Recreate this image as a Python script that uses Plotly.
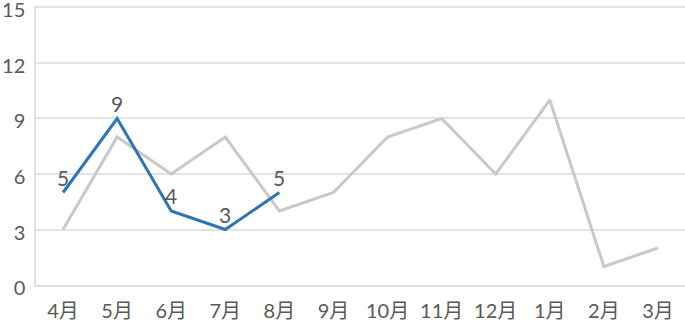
import plotly.graph_objects as go

months = ["4月", "5月", "6月", "7月", "8月", "9月", "10月", "11月", "12月", "1月", "2月", "3月"]
prev_year = [3, 8, 6, 8, 4, 5, 8, 9, 6, 10, 1, 2]
this_year = [5, 9, 4, 3, 5]
y_ticks = [0, 3, 6, 9, 12, 15]

FONT = "Lato, Noto Sans CJK JP"
TXT = "#595959"

fig = go.Figure()
fig.add_trace(go.Scatter(
    x=months, y=prev_year, mode="lines",
    line=dict(color="#c9c9c9", width=3), showlegend=False, hoverinfo="skip"))
fig.add_trace(go.Scatter(
    x=months[:len(this_year)], y=this_year, mode="lines",
    line=dict(color="#2e75b6", width=3), showlegend=False))

for m, v in zip(months, this_year):
    fig.add_annotation(x=m, y=v, text=str(v), showarrow=False, yshift=15,
                       font=dict(family=FONT, size=21, color=TXT))

fig.update_layout(
    width=685, height=323,
    margin=dict(l=36, r=0, t=6, b=38, autoexpand=False),
    paper_bgcolor="white", plot_bgcolor="white",
    font=dict(family=FONT, color=TXT),
    xaxis=dict(type="category", categoryorder="array", categoryarray=months,
               range=[-0.5, 11.5], showgrid=False, showline=True,
               linecolor="#e0e0e0", linewidth=2, tickfont=dict(size=20),
               ticks="outside", ticklen=7, tickcolor="rgba(0,0,0,0)",
               automargin=False),
    yaxis=dict(range=[0, 15.08], tickvals=y_ticks, showgrid=True,
               gridcolor="#e3e3e3", gridwidth=1.5, showline=True,
               linecolor="#e0e0e0", linewidth=1.5, zeroline=False,
               tickfont=dict(size=20), ticks="outside", ticklen=5,
               tickcolor="rgba(0,0,0,0)", ticklabeloverflow="allow",
               ticklabelshift=3, automargin=False),
)
fig.write_html("out.html")
